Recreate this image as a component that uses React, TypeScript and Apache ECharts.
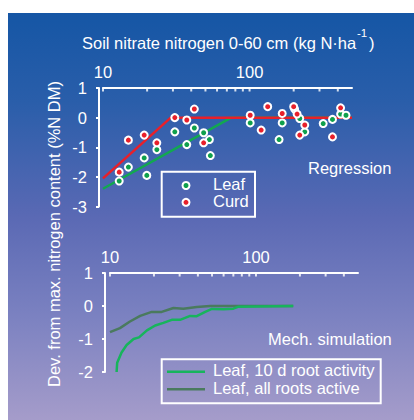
import React, { useEffect, useRef } from "react";
import * as echarts from "echarts";

// ---- axis ticks / labels ----
const xLabelValues = [10, 100];
const xTickMarks = [10, 20, 30, 40, 50, 60, 70, 80, 90, 100, 200, 300, 400];

// ---- Regression panel: measured points ----
const leafX = [12.9, 14.9, 19.1, 19.9, 23.3, 30.9, 37.3, 42, 48.6, 53.2, 54, 101, 159, 167, 203, 220, 238, 318, 368, 418, 455];
const leafY = [-2.14, -1.67, -1.36, -1.95, -1.08, -0.48, -0.91, -0.35, -0.51, -0.74, -1.28, -0.18, -0.74, -0.18, 0.29, -0.03, -0.48, -0.2, -0.06, 0.12, 0.08];
const curdX = [12.9, 14.9, 19.1, 23.3, 30.9, 37.3, 42, 48.6, 101, 120, 133, 167, 200, 211, 220, 238, 368, 418];
const curdY = [-1.84, -0.76, -0.59, -0.85, 0, -0.08, 0.29, -0.85, 0.08, -0.42, 0.37, 0.14, 0.37, 0.12, -0.59, -0.25, -0.65, 0.33];

// ---- Regression lines ----
const leafRegX = [10, 75, 500];
const leafRegY = [-2.4, 0, 0];
const curdRegX = [10, 29, 500];
const curdRegY = [-2.05, 0, 0];

// ---- Mechanistic simulation ----
const sim10dX = [11.1, 11.2, 12.0, 13.0, 14.5, 15.8, 17.9, 20.4, 23.2, 26.5, 30.2, 35.4, 39.3, 44.9, 49.9, 60, 70, 76, 180];
const sim10dY = [-2.0, -1.72, -1.41, -1.18, -1.0, -0.95, -0.74, -0.59, -0.51, -0.42, -0.42, -0.3, -0.31, -0.18, -0.09, -0.1, -0.08, -0.02, 0];
const simAllX = [10, 11.7, 13.7, 16.1, 19.3, 22.6, 27.2, 31.8, 39.3, 48.5, 180];
const simAllY = [-0.79, -0.67, -0.47, -0.3, -0.18, -0.18, -0.06, -0.08, -0.03, 0, 0];

const FONT = '"Liberation Sans", Arial, Helvetica, sans-serif';
const FS = 16.5;
const WHITE = "#ffffff";
const RED = "#e8202a";
const GREEN_MK = "#0fa04c";
const GREEN_REG = "#12a850";
const GREEN_10D = "#17b45c";
const GREEN_ALL = "#4a7a5e";

const zip = (xs: number[], ys: number[]) => xs.map((x, i) => [x, ys[i]]);

function xAxisCfg(gridIndex: number) {
  return {
    gridIndex,
    type: "log",
    logBase: 10,
    min: 10,
    max: 500,
    position: "top",
    axisLine: { show: true, onZero: false, lineStyle: { color: WHITE, width: 2 } },
    axisTick: { show: false },
    minorTick: { show: false },
    splitLine: { show: false },
    axisLabel: {
      color: WHITE,
      fontSize: FS,
      fontFamily: FONT,
      margin: 8,
      formatter: (v: number) => {
        const t = xLabelValues.find((t) => Math.abs(v - t) / t < 1e-6);
        return t !== undefined ? String(t) : "";
      },
    },
  };
}

function yAxisCfg(gridIndex: number, min: number, max: number, offset: number) {
  return {
    gridIndex,
    type: "value",
    min,
    max,
    interval: 1,
    offset,
    axisLine: { show: true, onZero: false, lineStyle: { color: WHITE, width: 2 } },
    axisTick: { show: true, length: 3, lineStyle: { color: WHITE, width: 2 } },
    splitLine: { show: false },
    axisLabel: { color: WHITE, fontSize: FS, fontFamily: FONT, margin: 12 },
  };
}

function tickSeries(idx: number, yTop: number) {
  return {
    type: "scatter",
    xAxisIndex: idx,
    yAxisIndex: idx,
    data: xTickMarks.map((v) => [v, yTop]),
    symbol: "rect",
    symbolSize: [2, 4],
    symbolOffset: [0, 1.5],
    itemStyle: { color: WHITE },
    silent: true,
    z: 5,
  };
}

const txt = (x: number, y: number, text: string, extra: any = {}) => ({
  type: "text",
  x,
  y,
  silent: true,
  style: {
    text,
    fill: WHITE,
    font: `${extra.fontSize || FS}px ${FONT}`,
    textAlign: extra.align || "left",
    textVerticalAlign: "middle",
    align: extra.align || "left",
    verticalAlign: "middle",
  },
  ...(extra.rotation !== undefined ? { rotation: extra.rotation } : {}),
});

export default function App() {
  const ref = useRef<HTMLDivElement>(null);
  useEffect(() => {
    const chart = echarts.init(ref.current!, null, { renderer: "svg" });
    chart.setOption({
      animation: false,
      backgroundColor: "transparent",
      textStyle: { fontFamily: FONT },
      grid: [
        { left: 95, top: 75, width: 249, height: 118.5 },
        { left: 102, top: 260, width: 248, height: 99 },
      ],
      xAxis: [xAxisCfg(0), xAxisCfg(1)],
      yAxis: [yAxisCfg(0, -3, 1, 4), yAxisCfg(1, -2, 1, 5)],
      series: [
        tickSeries(0, 1),
        tickSeries(1, 1),
        {
          type: "line",
          xAxisIndex: 0,
          yAxisIndex: 0,
          data: zip(leafRegX, leafRegY),
          showSymbol: false,
          lineStyle: { color: GREEN_REG, width: 2.5 },
          z: 2,
        },
        {
          type: "line",
          xAxisIndex: 0,
          yAxisIndex: 0,
          data: zip(curdRegX, curdRegY),
          showSymbol: false,
          lineStyle: { color: RED, width: 2.5 },
          z: 3,
        },
        {
          name: "Leaf",
          type: "scatter",
          xAxisIndex: 0,
          yAxisIndex: 0,
          data: zip(leafX, leafY),
          symbol: "circle",
          symbolSize: 7,
          itemStyle: { color: GREEN_MK, borderColor: WHITE, borderWidth: 2, opacity: 1 },
          z: 4,
        },
        {
          name: "Curd",
          type: "scatter",
          xAxisIndex: 0,
          yAxisIndex: 0,
          data: zip(curdX, curdY),
          symbol: "circle",
          symbolSize: 7,
          itemStyle: { color: RED, borderColor: WHITE, borderWidth: 2, opacity: 1 },
          z: 4,
        },
        {
          name: "Leaf, all roots active",
          type: "line",
          xAxisIndex: 1,
          yAxisIndex: 1,
          data: zip(simAllX, simAllY),
          showSymbol: false,
          lineStyle: { color: GREEN_ALL, width: 2.5 },
          z: 2,
        },
        {
          name: "Leaf, 10 d root activity",
          type: "line",
          xAxisIndex: 1,
          yAxisIndex: 1,
          data: zip(sim10dX, sim10dY),
          showSymbol: false,
          lineStyle: { color: GREEN_10D, width: 2.5 },
          z: 3,
        },
      ],
      graphic: [
        // title with superscript
        txt(74, 29.5, "Soil nitrate nitrogen 0-60 cm (kg N·ha"),
        txt(349, 20, "-1", { fontSize: 11.5 }),
        txt(361, 29.5, ")"),
        // y axis title
        txt(46, 221, "Dev. from max. nitrogen content (%N DM)", { align: "center", rotation: Math.PI / 2 }),
        // panel labels
        txt(300, 154.6, "Regression"),
        txt(260, 326.3, "Mech. simulation"),
        // top legend
        {
          type: "rect",
          silent: true,
          shape: { x: 153.7, y: 158.7, width: 93.3, height: 45 },
          style: { fill: "none", stroke: WHITE, lineWidth: 2 },
        },
        {
          type: "circle",
          silent: true,
          shape: { cx: 178, cy: 172.5, r: 3.5 },
          style: { fill: GREEN_MK, stroke: WHITE, lineWidth: 2 },
        },
        {
          type: "circle",
          silent: true,
          shape: { cx: 178, cy: 189.3, r: 3.5 },
          style: { fill: RED, stroke: WHITE, lineWidth: 2 },
        },
        txt(205, 171, "Leaf"),
        txt(205, 188, "Curd"),
        // bottom legend
        {
          type: "rect",
          silent: true,
          shape: { x: 153.7, y: 346.3, width: 219, height: 44 },
          style: { fill: "none", stroke: WHITE, lineWidth: 2 },
        },
        {
          type: "line",
          silent: true,
          shape: { x1: 159, y1: 358.7, x2: 197, y2: 358.7 },
          style: { stroke: GREEN_10D, lineWidth: 2.5 },
        },
        {
          type: "line",
          silent: true,
          shape: { x1: 159, y1: 376.3, x2: 197, y2: 376.3 },
          style: { stroke: GREEN_ALL, lineWidth: 2.5 },
        },
        txt(205, 357.3, "Leaf, 10 d root activity"),
        txt(205, 374.6, "Leaf, all roots active"),
      ],
    });
    return () => chart.dispose();
  }, []);
  return (
    <div
      ref={ref}
      style={{
        position: "fixed",
        left: 8,
        top: 13,
        width: 406,
        height: 407,
        background: "linear-gradient(to bottom, #1556a5 0%, #2a5eaa 22%, #5a69b4 50%, #7c82c1 75%, #a59cca 100%)",
      }}
    />
  );
}
